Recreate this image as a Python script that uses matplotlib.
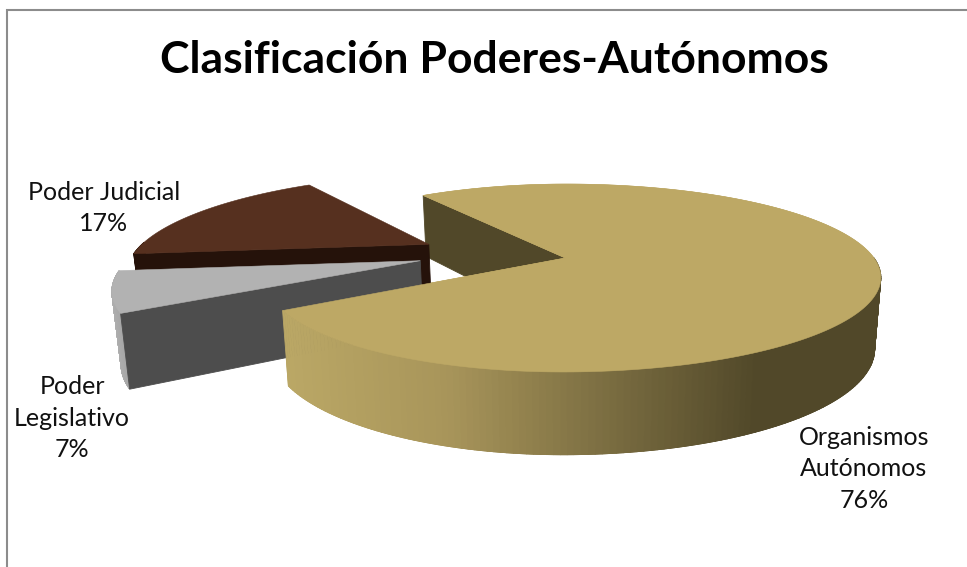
import numpy as np
import matplotlib
matplotlib.use("Agg")
import matplotlib.pyplot as plt
from matplotlib.colors import to_rgb

# Data
categories = ["Organismos\nAutónomos", "Poder\nLegislativo", "Poder Judicial"]
shares = [76, 7, 17]
title = "Clasificación Poderes-Autónomos"

# Layout of the projected pie (pixels of the figure)
X0, Y0, A, B, K = 573.0, 258.0, 309.0, 89.7, 0.213
LEFT_SCALE = 0.95
DEPTH, DEPTH_EXP, BOTTOM_SCALE = 69.0, 0.76, 0.98
EXPLODE = 0.255
START = 125.0
SHIFT_U = -0.026
RADII = [1.0, 0.99, 1.01]
TOP = ["#BDA865", "#B2B2B2", "#56301F"]
CUT = ["#514829", "#4D4D4D", "#25120A"]

plt.rcParams["font.family"] = ["Lato", "DejaVu Sans"]
fig = plt.figure(figsize=(9.67, 5.67), dpi=100, facecolor="white")
ax = fig.add_axes([0, 0, 1, 1])
ax.set_xlim(0, 967)
ax.set_ylim(567, 0)
ax.axis("off")


def project(u, v, bottom=False):
    u, v = np.asarray(u, float), np.asarray(v, float)
    w = 1 + K * v
    x = X0 + A * np.where(u < 0, LEFT_SCALE, 1.0) * u / w
    y = Y0 - B * v / w
    if bottom:
        y = y + DEPTH / w ** DEPTH_EXP
        x = X0 + (x - X0) * BOTTOM_SCALE
    return x, y


def big_rim(x):
    xs = [280, 450, 600, 760, 900]
    cs = np.array([to_rgb(c) for c in ["#BBA866", "#A8955A", "#7E7043", "#514829", "#514829"]])
    return [float(np.interp(x, xs, cs[:, i])) for i in range(3)]


def grey_rim(x):
    t = float(np.clip((x - 105) / 25, 0, 1))
    a, b = np.array(to_rgb("#B4B4B4")), np.array(to_rgb("#A0A0A0"))
    return a + (b - a) * t


def dark_rim(x):
    return CUT[2]


rim_color = [big_rim, grey_rim, dark_rim]

# slice geometry from the values
spans = []
a0 = START
for s in shares:
    sweep = s / sum(shares) * 360.0
    spans.append((a0, a0 - sweep))
    a0 -= sweep

origins = []
for (a1, a2) in spans:
    mid = np.radians((a1 + a2) / 2)
    origins.append((EXPLODE * np.cos(mid), EXPLODE * np.sin(mid)))
bx, by = origins[0]
origins = [(ox - bx + SHIFT_U, oy - by) for ox, oy in origins]


def quad(u1, v1, u2, v2, color, z):
    x1, y1 = project(u1, v1)
    x2, y2 = project(u2, v2)
    x3, y3 = project(u2, v2, True)
    x4, y4 = project(u1, v1, True)
    ax.fill([x1, x2, x3, x4], [y1, y2, y3, y4], color=color, lw=0.6, zorder=z)


def draw_slice(i, z, far_cut=False, near_cut=False):
    a1, a2 = spans[i]
    ou, ov = origins[i]
    t = np.radians(np.linspace(a1, a2, 260))
    u = ou + RADII[i] * np.cos(t)
    v = ov + RADII[i] * np.sin(t)
    if far_cut:
        quad(u[0], v[0], ou, ov, CUT[i], z)
    for j in np.argsort(-v):
        if j == len(u) - 1 or np.sin(t[j]) > 0.02:
            continue
        xm = float(project(u[j], v[j])[0])
        quad(u[j], v[j], u[j + 1], v[j + 1], rim_color[i](xm), z + 0.2)
    if near_cut:
        quad(ou, ov, u[0], v[0], CUT[i], z + 0.3)
    tx, ty = project(np.r_[ou, u], np.r_[ov, v])
    ax.fill(tx, ty, color=TOP[i], lw=0.4, zorder=z + 0.4)


draw_slice(0, 1, far_cut=True)
draw_slice(2, 2, near_cut=True)
draw_slice(1, 3, near_cut=True)

# the large slice's near part sits on top of the other two
draw_slice(0, 5)

# Labels
label_pos = [(864, 469), (72, 418), (104, 208)]
for cat, s, (lx, ly) in zip(categories, shares, label_pos):
    ax.text(lx, ly, f"{cat}\n{s}%", ha="center", va="center", fontsize=18,
            color="#111111", linespacing=1.43, zorder=10)

ax.text(494, 60, title, ha="center", va="center", fontsize=32, fontweight="bold",
        color="black", zorder=10)

# Frame
ax.plot([6.7, 6.7, 967], [567, 10, 10], color="#8C8C8C", lw=1.5, zorder=11, solid_joinstyle="miter")

fig.savefig("out.png", dpi=100, facecolor="white")
